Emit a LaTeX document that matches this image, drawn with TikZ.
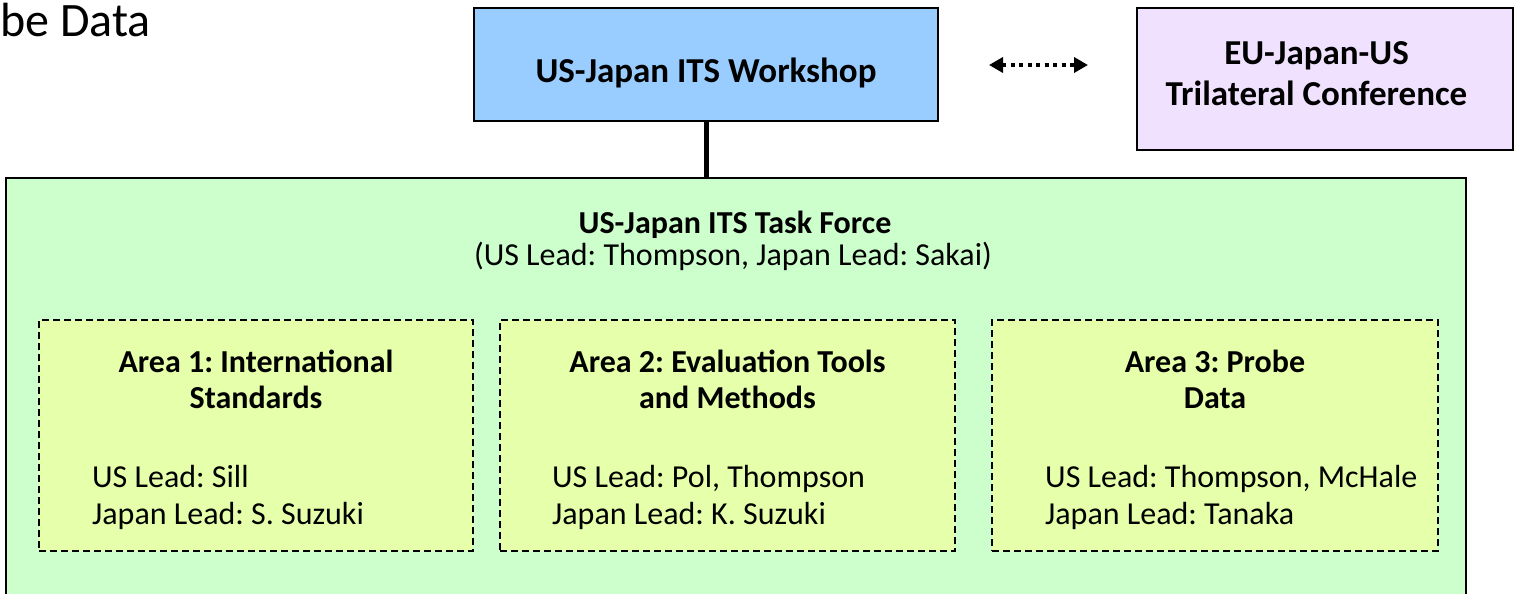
\documentclass[tikz,border=0pt]{standalone}
\usepackage{fontspec}
\setmainfont{Carlito}
\usetikzlibrary{positioning,arrows.meta}
\frenchspacing

\definecolor{wsblue}{RGB}{153,204,255}
\definecolor{trililac}{RGB}{240,226,255}
\definecolor{tfgreen}{RGB}{204,255,204}
\definecolor{areagreen}{RGB}{229,255,170}

\tikzset{
  body/.style={font=\fontsize{32}{37}\selectfont, inner sep=0pt},
  bodybf/.style={font=\fontsize{32}{37}\selectfont\bfseries, inner sep=0pt, anchor=base},
  topbf/.style={font=\fontsize{35}{40}\selectfont\bfseries, inner sep=0pt, anchor=base},
  areabox/.style={draw=black, fill=areagreen, line width=1.8pt,
    dash pattern=on 7pt off 4pt, minimum height=231pt},
  leads/.style={body, anchor=base west},
}

\begin{document}
\begin{tikzpicture}[x=1pt,y=-1pt]
         \clip (0,0) rectangle (1516,594);
         \node[anchor=base west,inner sep=0pt,font=\fontsize{48}{56}\selectfont,name=cut] at (0,37) {be Data};

         % top row
         \node[draw=black,fill=wsblue,line width=2pt,name=ws,
               minimum width=464pt,minimum height=113pt] at (706,64.5) {};
         \node[topbf,name=wstext] at (706,82) {US-Japan ITS Workshop};
         \node[draw=black,fill=trililac,line width=2pt,name=tri,
               minimum width=376pt,minimum height=142pt] at (1325,79) {};
         \node[topbf,name=tri1] at (1316.5,65) {EU-Japan-US};
         \node[topbf,name=tri2] at (1316.5,105) {Trilateral Conference};

         % task force
         \node[draw=black,fill=tfgreen,line width=2.5pt,name=tf,
               minimum width=1460pt,minimum height=442pt] at (736,399) {};
         \node[bodybf,name=tfhead] at (735,233) {US-Japan ITS Task Force};
         \node[body,anchor=base,name=tfsub] at (733,265) {(US Lead: Thompson, Japan Lead: Sakai)};

         % the three areas
         \node[areabox,name=a1,minimum width=434pt] at (256,435.5) {};
         \node[areabox,name=a2,minimum width=455pt] at (727.5,435.5) {};
         \node[areabox,name=a3,minimum width=446pt] at (1215,435.5) {};

         \node[bodybf,name=a1h1] at (256,372) {Area 1: International};
         \node[bodybf,name=a1h2] at (256,408) {Standards};
         \node[bodybf,name=a2h1] at (727.5,372) {Area 2: Evaluation Tools};
         \node[bodybf,name=a2h2] at (727.5,408) {and Methods};
         \node[bodybf,name=a3h1] at (1215,372) {Area 3: Probe};
         \node[bodybf,name=a3h2] at (1215,408) {Data};

         \node[leads,name=a1us] at (92,487) {US Lead: Sill};
         \node[leads,name=a1jp] at (92,524) {Japan Lead: S. Suzuki};
         \node[leads,name=a2us] at (552,487) {US Lead: Pol, Thompson};
         \node[leads,name=a2jp] at (552,524) {Japan Lead: K. Suzuki};
         \node[leads,name=a3us] at (1045,487) {US Lead: Thompson, McHale};
         \node[leads,name=a3jp] at (1045,524) {Japan Lead: Tanaka};

         \coordinate (al) at (989,65);
         \coordinate (ar) at (1088,65);

         \path[-]
            (ws.south) edge[line width=5pt] (ws.south |- tf.north)
            (al) edge[{Triangle[length=14pt,width=15pt]}-{Triangle[length=14pt,width=15pt]},
                      line width=4pt,dash pattern=on 4pt off 4.5pt] (ar);
      \end{tikzpicture}
\end{document}
